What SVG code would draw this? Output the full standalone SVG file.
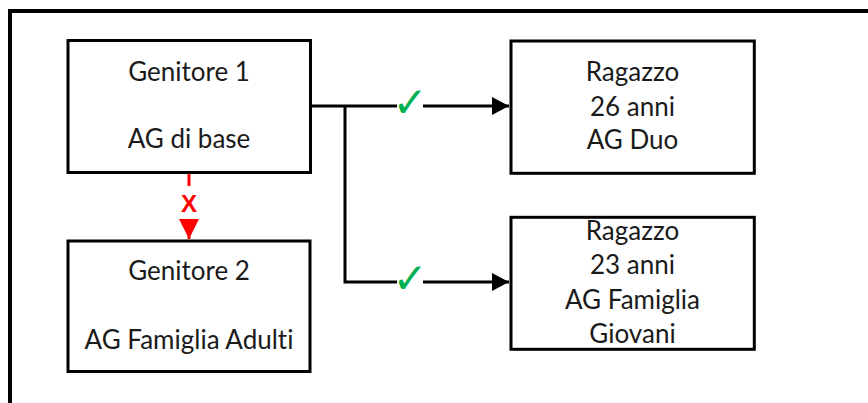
<svg xmlns="http://www.w3.org/2000/svg" width="868" height="403" viewBox="0 0 868 403">
<style>
.box{fill:#fff;stroke:#000;stroke-width:3}
.t{font-family:Lato,"Liberation Sans",sans-serif;font-size:26px;fill:#1a1a1a;text-anchor:middle;font-variant-ligatures:none}
.conn{fill:none;stroke:#000;stroke-width:3}
.red{fill:none;stroke:#f00;stroke-width:3}
.chk{font-family:"DejaVu Sans",sans-serif;font-size:42px;fill:#00b050;text-anchor:middle}
.x{font-family:"Liberation Sans",sans-serif;font-weight:bold;font-size:24px;fill:#f00;text-anchor:middle}
.bg{fill:#fff}
</style>
<defs>
<marker id="ab" markerUnits="userSpaceOnUse" markerWidth="18" markerHeight="18" refX="17" refY="9" orient="auto"><path d="M0,0 L17,9 L0,18 z" fill="#000"/></marker>
<marker id="ar" markerUnits="userSpaceOnUse" markerWidth="21" markerHeight="20" refX="20" refY="10" orient="auto"><path d="M0,0 L20,10 L0,20 z" fill="#f00"/></marker>
</defs>
<rect x="0" y="0" width="868" height="403" fill="#fff"/>
<rect x="10" y="11" width="900" height="450" fill="none" stroke="#000" stroke-width="4"/>
<g id="connectors">
<path class="conn" d="M310,106 H509" marker-end="url(#ab)"/>
<path class="conn" d="M345,106 V282 H509" marker-end="url(#ab)"/>
<rect class="bg" x="397" y="92" width="26" height="26"/>
<text class="chk" x="410" y="117">✓</text>
<rect class="bg" x="397" y="268" width="26" height="26"/>
<text class="chk" x="410" y="293">✓</text>
<path class="red" d="M189,173 V239" marker-end="url(#ar)"/>
<rect class="bg" x="178" y="186" width="22" height="33"/>
<text class="x" x="189" y="212">X</text>
</g>
<g id="genitore1">
<rect class="box" x="68" y="40.5" width="242.5" height="132"/>
<text class="t" x="189" y="81">Genitore 1</text>
<text class="t" x="189" y="148">AG di base</text>
</g>
<g id="genitore2">
<rect class="box" x="68" y="241" width="242" height="130.5"/>
<text class="t" x="189" y="280">Genitore 2</text>
<text class="t" x="189" y="349">AG Famiglia Adulti</text>
</g>
<g id="ragazzo26">
<rect class="box" x="511" y="41" width="243.3" height="132.3"/>
<text class="t" x="632.5" y="81">Ragazzo</text>
<text class="t" x="632.5" y="115.5">26 anni</text>
<text class="t" x="632.5" y="148.5">AG Duo</text>
</g>
<g id="ragazzo23">
<rect class="box" x="511" y="217.3" width="243.3" height="132"/>
<text class="t" x="632.5" y="240">Ragazzo</text>
<text class="t" x="632.5" y="274">23 anni</text>
<text class="t" x="632.5" y="308.5">AG Famiglia</text>
<text class="t" x="632.5" y="342.5">Giovani</text>
</g>
</svg>
